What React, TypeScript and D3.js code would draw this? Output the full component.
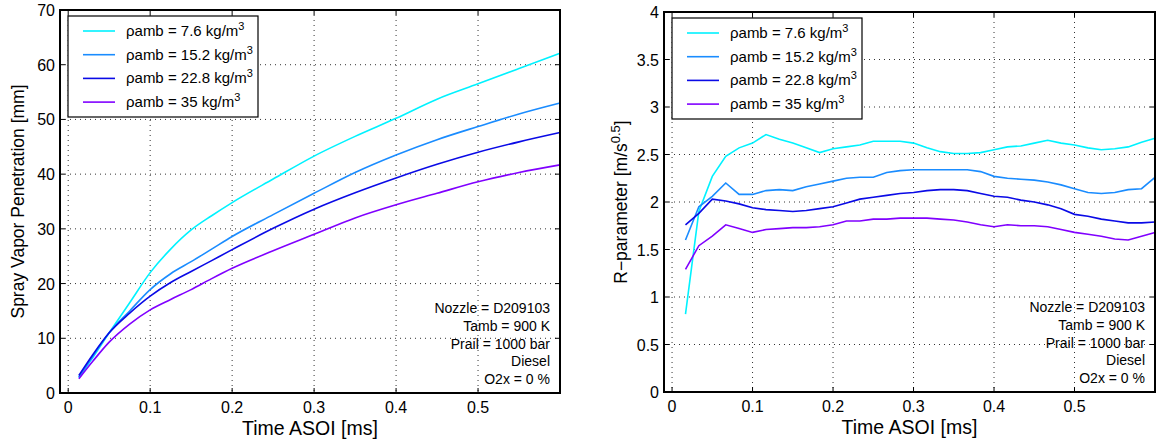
import React from 'react'
import * as d3 from 'd3'

// legend labels + line colours
const densities = ['7.6', '15.2', '22.8', '35']
const colors = ['#00f2ff', '#1a8cff', '#0a0ae6', '#8000ff']

// left panel: spray vapor penetration [mm]
const penTime = [0.013, 0.03, 0.05, 0.075, 0.1, 0.125, 0.15, 0.175, 0.2, 0.25, 0.3, 0.35, 0.4, 0.45, 0.5, 0.55, 0.6]
const pen76 = [2.8, 6.5, 11.0, 16.5, 22.0, 26.3, 29.8, 32.4, 34.8, 39.1, 43.3, 46.9, 50.2, 53.7, 56.5, 59.3, 62.1]
const pen152 = [2.9, 6.7, 11.0, 15.0, 18.9, 21.8, 24.0, 26.3, 28.6, 32.6, 36.5, 40.3, 43.5, 46.3, 48.7, 51.0, 53.0]
const pen228 = [3.2, 7.0, 11.0, 14.6, 17.7, 20.2, 22.2, 24.2, 26.2, 30.1, 33.6, 36.6, 39.3, 41.8, 44.0, 45.9, 47.6]
const pen35 = [2.6, 5.8, 9.3, 12.6, 15.2, 17.1, 18.9, 20.9, 22.8, 26.0, 29.0, 32.0, 34.4, 36.5, 38.6, 40.3, 41.7]

// right panel: R-parameter [m/s^0.5]
const rTime = [
  0.0167, 0.0333, 0.05, 0.0667, 0.0833, 0.1, 0.1167, 0.1333, 0.15, 0.1667, 0.1833, 0.2,
  0.2167, 0.2333, 0.25, 0.2667, 0.2833, 0.3, 0.3167, 0.3333, 0.35, 0.3667, 0.3833, 0.4,
  0.4167, 0.4333, 0.45, 0.4667, 0.4833, 0.5, 0.5167, 0.5333, 0.55, 0.5667, 0.5833, 0.6
]
const r76 = [
  0.82, 1.9, 2.27, 2.48, 2.57, 2.62, 2.71, 2.66, 2.62, 2.57, 2.52, 2.56,
  2.58, 2.6, 2.64, 2.64, 2.64, 2.62, 2.57, 2.53, 2.51, 2.51, 2.52, 2.55,
  2.58, 2.59, 2.62, 2.65, 2.62, 2.6, 2.57, 2.55, 2.56, 2.58, 2.63, 2.67
]
const r152 = [
  1.6, 1.95, 2.06, 2.2, 2.08, 2.08, 2.12, 2.13, 2.12, 2.16, 2.19, 2.22,
  2.25, 2.26, 2.26, 2.31, 2.33, 2.34, 2.34, 2.34, 2.34, 2.34, 2.32, 2.27,
  2.25, 2.24, 2.23, 2.21, 2.18, 2.14, 2.1, 2.09, 2.1, 2.13, 2.14, 2.26
]
const r228 = [
  1.76, 1.88, 2.03, 2.01, 1.98, 1.94, 1.92, 1.91, 1.9, 1.91, 1.93, 1.95,
  1.99, 2.03, 2.05, 2.07, 2.09, 2.1, 2.12, 2.13, 2.13, 2.12, 2.09, 2.06,
  2.05, 2.02, 2.0, 1.97, 1.93, 1.87, 1.85, 1.82, 1.8, 1.78, 1.78, 1.79
]
const r35 = [
  1.29, 1.54, 1.64, 1.76, 1.72, 1.68, 1.71, 1.72, 1.73, 1.73, 1.74, 1.76,
  1.8, 1.8, 1.82, 1.82, 1.83, 1.83, 1.83, 1.82, 1.81, 1.79, 1.76, 1.74,
  1.76, 1.75, 1.75, 1.74, 1.71, 1.68, 1.66, 1.64, 1.61, 1.6, 1.64, 1.68
]

const xTicks = [0, 0.1, 0.2, 0.3, 0.4, 0.5]
const penTicks = [0, 10, 20, 30, 40, 50, 60, 70]
const rTicks = [0, 0.5, 1, 1.5, 2, 2.5, 3, 3.5, 4]
const notes = ['Nozzle = D209103', 'Tamb = 900 K', 'Prail = 1000 bar', 'Diesel', 'O2x = 0 %']

const FONT = '"Liberation Sans", Arial, Helvetica, sans-serif'

type PanelProps = {
  left: number
  right: number
  top: number
  bottom: number
  yMax: number
  yTicks: number[]
  time: number[]
  series: number[][]
  curve: d3.CurveFactory
  yLabel: React.ReactNode
  yLabelX: number
}

const Panel = ({ left, right, top, bottom, yMax, yTicks, time, series, curve, yLabel, yLabelX }: PanelProps) => {
  const x = d3.scaleLinear().domain([-0.01, 0.6]).range([left, right])
  const y = d3.scaleLinear().domain([0, yMax]).range([bottom, top])
  const line = d3
    .line<number>()
    .x((_, i) => x(time[i]))
    .y((d) => y(d))
    .curve(curve)

  const tick = 5
  const legTop = top + 6
  const legLeft = left + 8

  return (
    <g fontFamily={FONT}>
      {/* grid */}
      {xTicks.map((t) => (
        <line key={'gx' + t} x1={x(t)} x2={x(t)} y1={top} y2={bottom} stroke="#333" strokeWidth={1} strokeDasharray="1,4" />
      ))}
      {yTicks.map((t) => (
        <line key={'gy' + t} x1={left} x2={right} y1={y(t)} y2={y(t)} stroke="#333" strokeWidth={1} strokeDasharray="1,4" />
      ))}

      {/* data */}
      {series.map((s, i) => (
        <path key={'s' + i} d={line(s) || ''} fill="none" stroke={colors[i]} strokeWidth={1.6} />
      ))}

      {/* ticks, all four sides pointing in */}
      {xTicks.map((t) => (
        <g key={'tx' + t}>
          <line x1={x(t)} x2={x(t)} y1={bottom} y2={bottom - tick} stroke="#000" strokeWidth={1} />
          <line x1={x(t)} x2={x(t)} y1={top} y2={top + tick} stroke="#000" strokeWidth={1} />
          <text x={x(t)} y={bottom + 20} textAnchor="middle" fontSize={16}>
            {t}
          </text>
        </g>
      ))}
      {yTicks.map((t) => (
        <g key={'ty' + t}>
          <line x1={left} x2={left + tick} y1={y(t)} y2={y(t)} stroke="#000" strokeWidth={1} />
          <line x1={right} x2={right - tick} y1={y(t)} y2={y(t)} stroke="#000" strokeWidth={1} />
          <text x={left - 5} y={y(t) + 6} textAnchor="end" fontSize={16}>
            {t}
          </text>
        </g>
      ))}

      <rect x={left} y={top} width={right - left} height={bottom - top} fill="none" stroke="#000" strokeWidth={2} />

      {/* axis labels */}
      <text x={(left + right) / 2} y={bottom + 42} textAnchor="middle" fontSize={19.5}>
        Time ASOI [ms]
      </text>
      <text
        transform={`translate(${yLabelX},${(top + bottom) / 2}) rotate(-90)`}
        textAnchor="middle"
        fontSize={17.5}
      >
        {yLabel}
      </text>

      {/* legend */}
      <rect x={legLeft} y={legTop} width={190} height={101} fill="#fff" stroke="#000" strokeWidth={1.2} />
      {densities.map((d, i) => {
        const cy = legTop + 15 + i * 23.7
        return (
          <g key={'l' + d}>
            <line x1={legLeft + 15} x2={legLeft + 47} y1={cy} y2={cy} stroke={colors[i]} strokeWidth={1.6} />
            <text x={legLeft + 58} y={cy + 5} fontSize={15}>
              ρamb = {d} kg/m
              <tspan dy={-6} fontSize={11}>
                3
              </tspan>
            </text>
          </g>
        )
      })}

      {/* run conditions */}
      {notes.map((n, i) => (
        <text key={n} x={right - 10} y={bottom - 80 + i * 17.8} textAnchor="end" fontSize={14}>
          {n}
        </text>
      ))}
    </g>
  )
}

const App = () => {
  return (
    <svg width={1164} height={448} style={{ position: 'absolute', left: 0, top: 0, background: '#fff' }}>
      <rect width={1164} height={448} fill="#fff" />
      <Panel
        left={60}
        right={560}
        top={10}
        bottom={393}
        yMax={70}
        yTicks={penTicks}
        time={penTime}
        series={[pen76, pen152, pen228, pen35]}
        curve={d3.curveMonotoneX}
        yLabel="Spray Vapor Penetration [mm]"
        yLabelX={24}
      />
      <Panel
        left={664}
        right={1155}
        top={12}
        bottom={392}
        yMax={4}
        yTicks={rTicks}
        time={rTime}
        series={[r76, r152, r228, r35]}
        curve={d3.curveLinear}
        yLabel={
          <>
            R−parameter [m/s
            <tspan dy={-7} fontSize={13}>
              0.5
            </tspan>
            <tspan dy={7}>]</tspan>
          </>
        }
        yLabelX={627}
      />
    </svg>
  )
}

export default App
